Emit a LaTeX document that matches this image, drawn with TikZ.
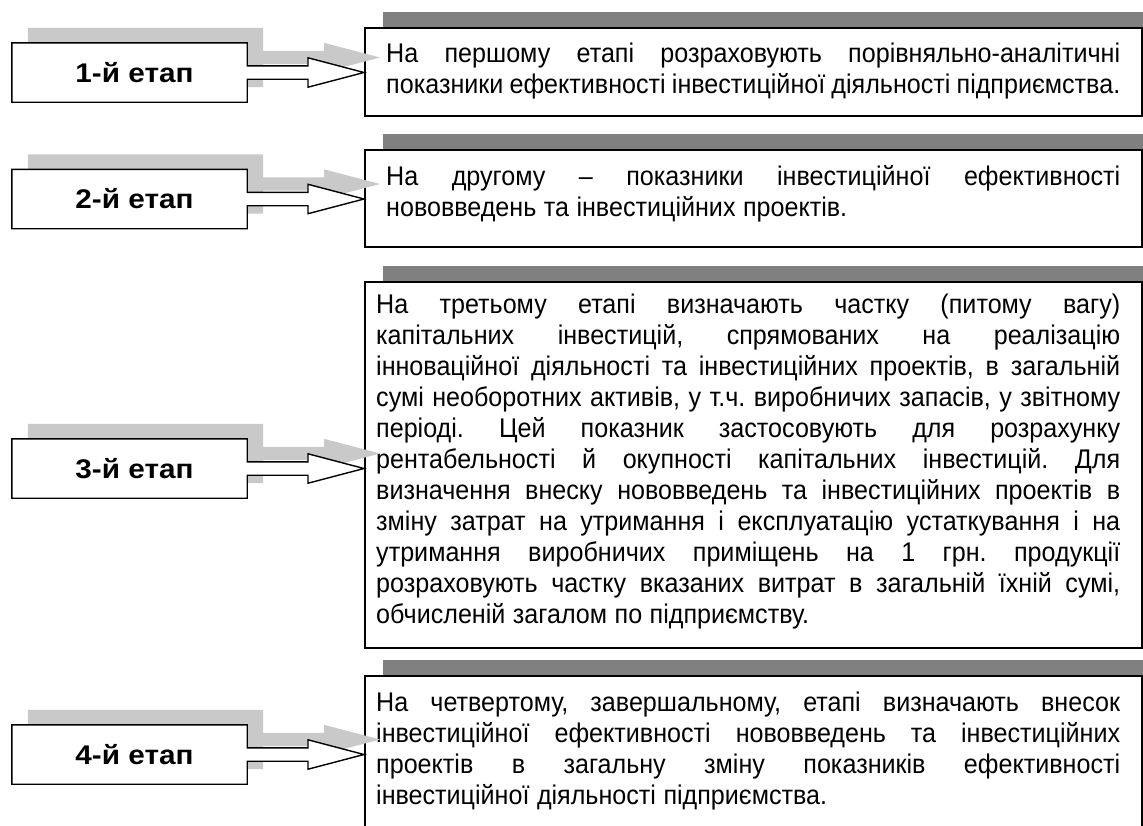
\documentclass[tikz,border=0pt]{standalone}
\usepackage{fontspec}
\setmainfont{Liberation Sans}
\newfontfamily\bodyfont{Liberation Sans}[FakeStretch=0.93]
\newfontfamily\labelfont{Liberation Sans}[FakeStretch=1.1]
\usetikzlibrary{calc,shadows}
\newcommand\bodysetup{\bodyfont\fontsize{27}{31}\selectfont\frenchspacing\spaceskip=0.278em plus 3em minus 0.15em\relax}
\newcommand\jlA[1]{\makebox[734pt][s]{#1}}
\newcommand\jlB[1]{\makebox[744pt][s]{#1}}
\newcommand\fs{\rule{0pt}{24pt}}
\newcommand\arrowpath[2]{(#1.north west) -- (#1.north east) -- ([yshift=6.7pt]#1.east) -- ($(#1.east -| #2.west)+(-56pt,6.7pt)$) -- ($(#1.east -| #2.west)+(-56pt,14.7pt)$) -- (#1.east -| #2.west) -- ($(#1.east -| #2.west)+(-56pt,-14.7pt)$) -- ($(#1.east -| #2.west)+(-56pt,-6.7pt)$) -- ([yshift=-6.7pt]#1.east) -- (#1.south east) -- (#1.south west) -- cycle}
\tikzset{
  textbox/.style={draw=black, line width=2pt, fill=white, anchor=north west, inner sep=0pt,
    drop shadow={shadow xshift=18pt, shadow yshift=16pt, fill=black!50, opacity=1}},
  stagebox/.style={draw=none, inner sep=0pt, minimum width=235pt, minimum height=59pt},
  stageline/.style={draw=black, line width=1.4pt, fill=white, line join=miter},
  stageshadow/.style={fill=gray!42, draw=none, transform canvas={shift={(16pt,15pt)}}},
  bodytext/.style={anchor=north west, inner sep=0pt, align=left},
  stagelabel/.style={inner sep=0pt, font=\labelfont\bfseries\fontsize{27}{30}\selectfont},
}
\begin{document}
\begin{tikzpicture}[x=1pt,y=-1pt]
\useasboundingbox (0,0) rectangle (1143,825);
\clip (0,0) rectangle (1143,825);
% text boxes
\node[textbox, minimum width=777pt, minimum height=88pt] (t1) at (364,27) {};
\node[textbox, minimum width=777pt, minimum height=97pt] (t2) at (364,149) {};
\node[textbox, minimum width=777pt, minimum height=366pt] (t3) at (364,281) {};
\node[textbox, minimum width=777pt, minimum height=158pt] (t4) at (364,675) {};
% texts
\node[bodytext, text width=734pt] (x1) at (386,38) {\bodysetup\fs\jlA{На першому етапі розраховують порівняльно-аналітичні}\\
\jlA{показники ефективності інвестиційної діяльності підприємства.}\par};
\node[bodytext, text width=734pt] (x2) at (386,161) {\bodysetup\fs\jlA{На другому – показники інвестиційної ефективності}\\
нововведень та інвестиційних проектів.\par};
\node[bodytext, text width=744pt] (x3) at (376,289) {\bodysetup\fs\jlB{На третьому етапі визначають частку (питому вагу)}\\
\jlB{капітальних інвестицій, спрямованих на реалізацію}\\
\jlB{інноваційної діяльності та інвестиційних проектів, в загальній}\\
\jlB{сумі необоротних активів, у т.ч. виробничих запасів, у звітному}\\
\jlB{періоді. Цей показник застосовують для розрахунку}\\
\jlB{рентабельності й окупності капітальних інвестицій. Для}\\
\jlB{визначення внеску нововведень та інвестиційних проектів в}\\
\jlB{зміну затрат на утримання і експлуатацію устаткування і на}\\
\jlB{утримання виробничих приміщень на 1 грн. продукції}\\
\jlB{розраховують частку вказаних витрат в загальній їхній сумі,}\\
обчисленій загалом по підприємству.\par};
\node[bodytext, text width=744pt] (x4) at (376,687) {\bodysetup\fs\jlB{На четвертому, завершальному, етапі визначають внесок}\\
\jlB{інвестиційної ефективності нововведень та інвестиційних}\\
\jlB{проектів в загальну зміну показників ефективності}\\
інвестиційної діяльності підприємства.\par};
% stages
\foreach \i/\cy/\t/\lab in {1/72.5/t1/1-й етап, 2/199/t2/2-й етап, 3/468.5/t3/3-й етап, 4/754.5/t4/4-й етап}{
  \node[stagebox] (s\i) at (129.5,\cy) {};
  \fill[stageshadow] \arrowpath{s\i}{\t};
  \draw[stageline] \arrowpath{s\i}{\t};
  \node[stagelabel] (l\i) at ([xshift=5pt]s\i.center) {\lab};
}
\end{tikzpicture}
\end{document}
